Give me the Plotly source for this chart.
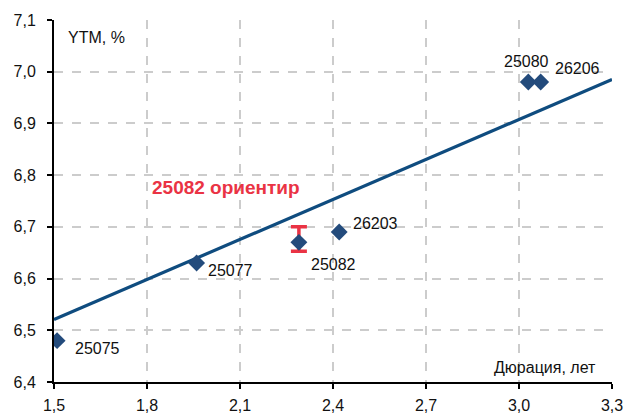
import plotly.graph_objects as go

# Data
names = ["25075", "25077", "25082", "26203", "25080", "26206"]
duration = [1.51, 1.96, 2.29, 2.42, 3.03, 3.07]
ytm = [6.48, 6.63, 6.67, 6.69, 6.98, 6.98]

guide_name = "25082"
guide_x = [2.29]
guide_y = [6.67]
guide_hi = [6.70]
guide_lo = [6.653]

trend_x = [1.5, 3.3]
trend_y = [6.521, 6.985]

x_ticks = [1.5, 1.8, 2.1, 2.4, 2.7, 3.0, 3.3]
y_ticks = [6.4, 6.5, 6.6, 6.7, 6.8, 6.9, 7.0, 7.1]

# label offsets in pixels (dx, dy, xanchor)
label_style = {
    "25075": (16, 8, "left"),
    "25077": (9, 7, "left"),
    "25082": (10, 22, "left"),
    "26203": (12, -9, "left"),
    "25080": (-2, -21, "center"),
    "26206": (12, -14, "left"),
}

FONT = "Liberation Sans, Arial, sans-serif"
BLUE = "#234b7c"
LINE = "#0f4c7f"
RED = "#ea3344"

fig = go.Figure()

fig.add_trace(go.Scatter(
    x=trend_x, y=trend_y, mode="lines",
    line=dict(color=LINE, width=3.2), hoverinfo="skip", showlegend=False))

fig.add_trace(go.Scatter(
    x=guide_x, y=guide_y, mode="markers",
    marker=dict(size=1, color="rgba(0,0,0,0)"),
    error_y=dict(type="data", symmetric=False,
                 array=[guide_hi[0] - guide_y[0]],
                 arrayminus=[guide_y[0] - guide_lo[0]],
                 color=RED, thickness=3.5, width=8),
    showlegend=False))

fig.add_trace(go.Scatter(
    x=duration, y=ytm, mode="markers",
    marker=dict(symbol="diamond", size=13, color=BLUE),
    showlegend=False))

for n, xv, yv in zip(names, duration, ytm):
    dx, dy, xa = label_style[n]
    fig.add_annotation(x=xv, y=yv, text=n, showarrow=False,
                       xanchor=xa, yanchor="middle", xshift=dx, yshift=-dy,
                       font=dict(family=FONT, size=16, color="#111111"))

fig.add_annotation(x=1.81, y=6.776, text="<b>" + guide_name + " ориентир</b>",
                   showarrow=False, xanchor="left", yanchor="middle",
                   font=dict(family=FONT, size=19, color=RED))

fig.add_annotation(xref="paper", yref="paper", x=0.0215, y=0.953, text="YTM, %",
                   showarrow=False, xanchor="left", yanchor="middle",
                   font=dict(family=FONT, size=16, color="#111111"))
fig.add_annotation(xref="paper", yref="paper", x=0.975, y=0.041, text="Дюрация, лет",
                   showarrow=False, xanchor="right", yanchor="middle",
                   font=dict(family=FONT, size=16, color="#111111"))

axis_common = dict(
    showgrid=True, gridcolor="#cccccc", griddash="dash", gridwidth=1.5,
    showline=True, linecolor="#000000", linewidth=2,
    ticks="outside", ticklen=5, tickwidth=1.5, tickcolor="#000000",
    tickfont=dict(family=FONT, size=16, color="#111111"),
    zeroline=False, tickformat=".1f", automargin=False,
)

fig.update_xaxes(range=[1.5, 3.3], tickvals=x_ticks, ticklabelstandoff=3, **axis_common)
fig.update_yaxes(range=[6.4, 7.1], tickvals=y_ticks, ticklabelstandoff=8, **axis_common)

fig.update_layout(
    width=625, height=414,
    margin=dict(l=54, r=13, t=20, b=32),
    plot_bgcolor="white", paper_bgcolor="white",
    separators=", ",
    font=dict(family=FONT),
)

fig.write_html("out.html", config={"displayModeBar": False},
               post_script="document.body.style.margin='0';document.body.style.overflow='hidden';")
